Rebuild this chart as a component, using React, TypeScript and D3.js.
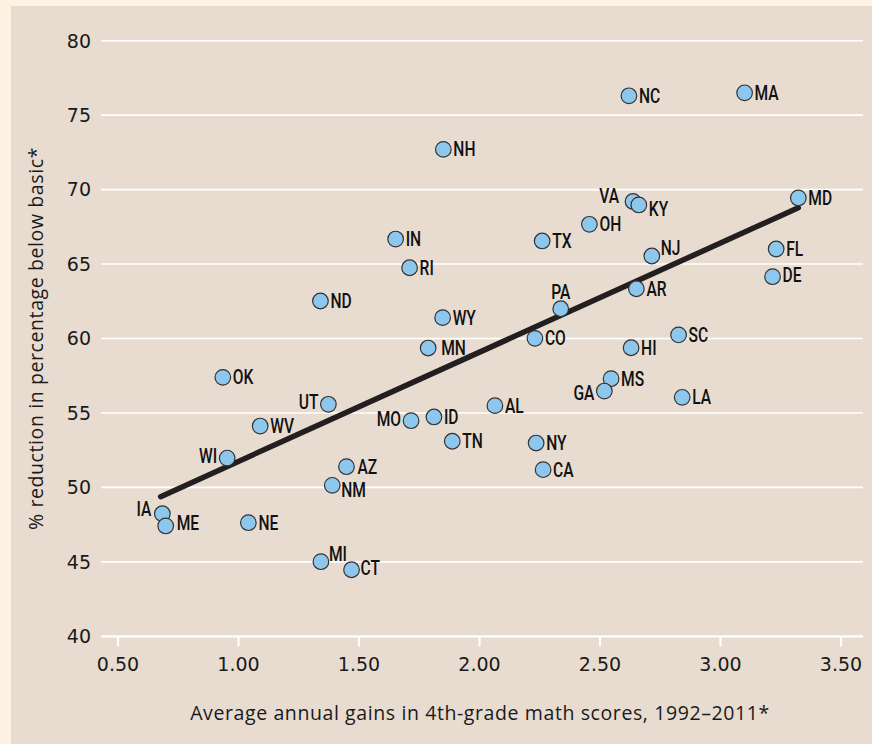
import React, { useEffect, useRef } from "react";
import * as d3 from "d3";

// state codes and values
const states = [
  "NC", "MA", "NH", "VA", "KY", "MD", "OH", "IN", "TX", "NJ", "FL", "RI", "DE",
  "ND", "AR", "PA", "WY", "CO", "SC", "MN", "HI", "OK", "MS", "GA", "LA", "UT",
  "AL", "MO", "ID", "WV", "TN", "NY", "WI", "AZ", "CA", "NM", "IA", "ME", "NE",
  "MI", "CT",
];
const gains = [
  2.62, 3.1, 1.85, 2.637, 2.661, 3.323, 2.456, 1.652, 2.26, 2.715, 3.231, 1.71, 3.216,
  1.34, 2.651, 2.337, 1.847, 2.23, 2.826, 1.787, 2.629, 0.935, 2.546, 2.518, 2.841, 1.373,
  2.064, 1.716, 1.811, 1.09, 1.887, 2.235, 0.953, 1.448, 2.264, 1.389, 0.684, 0.698, 1.041,
  1.342, 1.469,
];
const reductions = [
  76.3, 76.5, 72.7, 69.2, 68.97, 69.44, 67.67, 66.68, 66.55, 65.54, 66.01, 64.75, 64.15,
  62.52, 63.34, 62.0, 61.4, 60.01, 60.24, 59.36, 59.38, 57.39, 57.3, 56.47, 56.05, 55.58,
  55.49, 54.48, 54.73, 54.12, 53.1, 52.98, 51.97, 51.39, 51.19, 50.14, 48.23, 47.41, 47.63,
  45.01, 44.47,
];
// fitted trend line end points
const trendX = [0.677, 3.323];
const trendY = [49.38, 68.78];

const xTicks = [0.5, 1, 1.5, 2, 2.5, 3, 3.5];
const yTicks = [40, 45, 50, 55, 60, 65, 70, 75, 80];

const xTitle = "Average annual gains in 4th-grade math scores, 1992\u20132011*";
const yTitle = "% reduction in percentage below basic*";

// where each label sits relative to its dot (default: right, centred)
const labelPlace: Record<string, [number, number, string]> = {
  VA: [-14, -6, "end"],
  KY: [10, 4, "start"],
  NJ: [9, -8, "start"],
  PA: [0, -17, "middle"],
  UT: [-10, -2, "end"],
  MO: [-10, -2, "end"],
  WI: [-10, -2, "end"],
  IA: [-11, -5, "end"],
  GA: [-10, 2, "end"],
  MI: [8, -8, "start"],
  NM: [9, 5, "start"],
  MN: [13, 0, "start"],
  AZ: [11, 0, "start"],
  ME: [11, -3, "start"],
  CT: [9, -2, "start"],
  DE: [10, -2, "start"],
};

const W = 872;
const H = 744;
const tickFont = "'DejaVu Sans', sans-serif";
const titleFont = "'Open Sans', sans-serif";
const labelFont = "Roboto, sans-serif";

const App = () => {
  const ref = useRef<SVGSVGElement>(null);

  useEffect(() => {
    const svg = d3.select(ref.current);
    svg.selectAll("*").remove();

    const x = d3.scaleLinear().domain([0.5, 3.5]).range([118, 841]);
    const y = d3.scaleLinear().domain([40, 80]).range([636.3, 40.7]);

    // backgrounds
    svg.append("rect").attr("width", W).attr("height", H).attr("fill", "#fdf3e2");
    svg.append("rect").attr("x", 11).attr("y", 6).attr("width", W - 11).attr("height", H - 6).attr("fill", "#e8dcd0");

    // horizontal grid
    svg
      .append("g")
      .selectAll("line")
      .data(yTicks)
      .join("line")
      .attr("x1", 101)
      .attr("x2", 863)
      .attr("y1", (d) => y(d))
      .attr("y2", (d) => y(d))
      .attr("stroke", "#fff")
      .attr("stroke-width", (d) => (d === 40 ? 2.2 : 1.6));

    // y tick labels
    svg
      .append("g")
      .selectAll("text")
      .data(yTicks)
      .join("text")
      .attr("x", 91)
      .attr("y", (d) => y(d))
      .attr("dy", "0.36em")
      .attr("text-anchor", "end")
      .attr("font-family", tickFont)
      .attr("font-size", 19)
      .attr("fill", "#1a1a1a")
      .text((d) => d);

    // x ticks
    const xt = svg.append("g");
    xt.selectAll("line")
      .data(xTicks)
      .join("line")
      .attr("x1", (d) => x(d))
      .attr("x2", (d) => x(d))
      .attr("y1", y(40))
      .attr("y2", y(40) + 10)
      .attr("stroke", "#fff")
      .attr("stroke-width", 2.2);
    xt.selectAll("text")
      .data(xTicks)
      .join("text")
      .attr("x", (d) => x(d))
      .attr("y", 664)
      .attr("dy", "0.36em")
      .attr("text-anchor", "middle")
      .attr("font-family", tickFont)
      .attr("font-size", 19)
      .attr("fill", "#1a1a1a")
      .text((d) => d3.format(".2f")(d));

    // axis titles
    svg
      .append("text")
      .attr("x", 480)
      .attr("y", 713)
      .attr("dy", "0.35em")
      .attr("text-anchor", "middle")
      .attr("font-family", titleFont)
      .attr("font-size", 19.5)
      .attr("letter-spacing", 0.6)
      .attr("fill", "#1a1a1a")
      .text(xTitle);

    svg
      .append("text")
      .attr("transform", `translate(36,${y(60)}) rotate(-90)`)
      .attr("dy", "0.35em")
      .attr("text-anchor", "middle")
      .attr("font-family", titleFont)
      .attr("font-size", 19.5)
      .attr("letter-spacing", 0.6)
      .attr("fill", "#1a1a1a")
      .text(yTitle);

    // trend line
    svg
      .append("line")
      .attr("x1", x(trendX[0]))
      .attr("y1", y(trendY[0]))
      .attr("x2", x(trendX[1]))
      .attr("y2", y(trendY[1]))
      .attr("stroke", "#231f20")
      .attr("stroke-width", 5.5)
      .attr("stroke-linecap", "round");

    const data = states.map((s, i) => ({ s, gx: gains[i], ry: reductions[i] }));

    // dots
    svg
      .append("g")
      .selectAll("circle")
      .data(data)
      .join("circle")
      .attr("cx", (d) => x(d.gx))
      .attr("cy", (d) => y(d.ry))
      .attr("r", 7.8)
      .attr("fill", "#8ec7ee")
      .attr("stroke", "#333")
      .attr("stroke-width", 1.2);

    // labels, condensed by squeezing horizontally
    svg
      .append("g")
      .selectAll("text")
      .data(data)
      .join("text")
      .attr("transform", (d) => {
        const p = labelPlace[d.s];
        const lx = x(d.gx) + (p ? p[0] : 10);
        const ly = y(d.ry) + (p ? p[1] : 0);
        return `translate(${lx},${ly}) scale(0.8,1)`;
      })
      .attr("dy", "0.36em")
      .attr("text-anchor", (d) => (labelPlace[d.s] ? labelPlace[d.s][2] : "start"))
      .attr("font-family", labelFont)
      .attr("font-weight", 500)
      .attr("font-size", 19.5)
      .attr("fill", "#111")
      .text((d) => d.s);
  }, []);

  return (
    <svg
      ref={ref}
      width={W}
      height={H}
      style={{ position: "absolute", left: 0, top: 0, display: "block" }}
    />
  );
};

export default App;
